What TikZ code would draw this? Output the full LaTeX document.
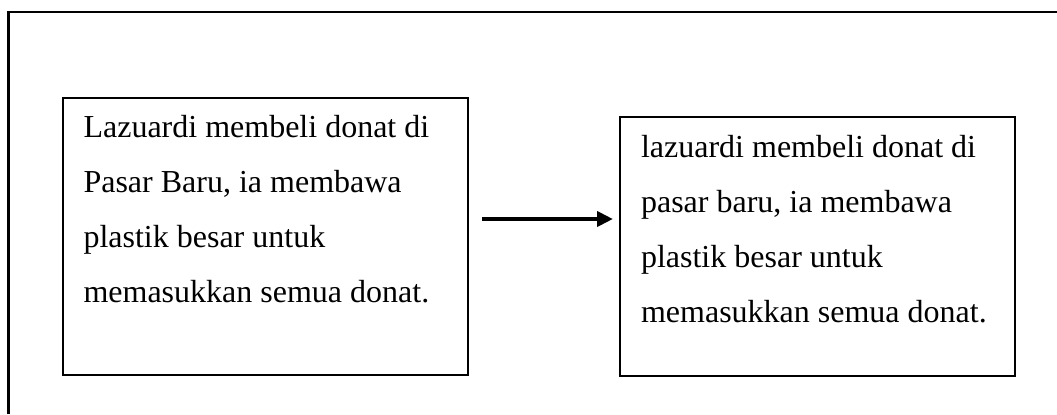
\documentclass[tikz,border=0pt]{standalone}
\usepackage{fontspec}
\setmainfont{Liberation Serif}
\usetikzlibrary{arrows.meta,calc}

\begin{document}
\begin{tikzpicture}[
    x=0.375pt, y=-0.375pt,
    framebox/.style={
        line width=0.9pt,
        draw=black
    },
    boxnode/.style={
        draw=black,
        line width=0.9pt,
        inner sep=0pt,
        anchor=north west
    },
    textnode/.style={
        inner sep=0pt,
        anchor=base west,
        align=left,
        font=\fontsize{12pt}{20.6pt}\selectfont
    }
]
    \useasboundingbox (0,0) rectangle (1057,414);

    % --- OUTER FRAME ---
    \draw[framebox] (8.3,414) -- (8.3,11.7) -- (1057,11.7);

    % --- LEFT BOX ---
    \node[boxnode, minimum width=405*0.375pt, minimum height=277*0.375pt] (asli) at (62,97) {};
    \node[textnode] (teksasli) at (83,302) {
        Lazuardi membeli donat di\\
        Pasar Baru, ia membawa\\
        plastik besar untuk\\
        memasukkan semua donat.
    };

    % --- RIGHT BOX ---
    \node[boxnode, minimum width=395*0.375pt, minimum height=259*0.375pt] (ubah) at (619,116) {};
    \node[textnode] (teksubah) at (640.5,322) {
        lazuardi membeli donat di\\
        pasar baru, ia membawa\\
        plastik besar untuk\\
        memasukkan semua donat.
    };

    % --- ARROW ---
    \draw[-{Triangle[length=6pt,width=5.6pt]}, line width=1.5pt]
        ([shift={(13,122)}]asli.north east) -- ([shift={(-6,103)}]ubah.north west);
\end{tikzpicture}
\end{document}
